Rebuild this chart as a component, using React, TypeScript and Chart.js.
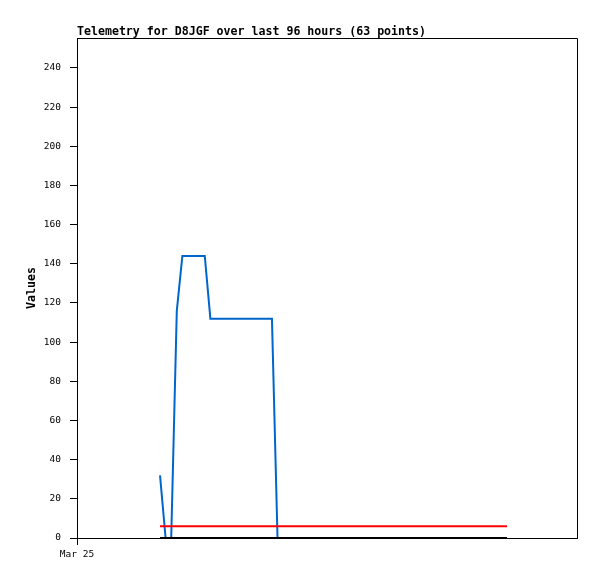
import React, { useEffect, useRef } from "react";
import { Chart, registerables } from "chart.js";

Chart.register(...registerables);

const TITLE = "Telemetry for D8JGF over last 96 hours (63 points)";
const Y_LABEL = "Values";

// hours since Mar 25 00:00
const hours = [
  15.94, 17.01, 18.09, 19.16, 20.23, 21.31, 22.38, 23.46, 24.53, 25.61,
  26.68, 27.76, 28.83, 29.91, 30.98, 32.06, 33.13, 34.2, 35.28, 36.35,
  37.43, 38.5, 39.58, 40.65, 41.73, 42.8, 43.88, 44.95, 46.02, 47.1,
  48.17, 49.25, 50.32, 51.4, 52.47, 53.55, 54.62, 55.7, 56.77, 57.85,
  58.92, 59.99, 61.07, 62.14, 63.22, 64.29, 65.37, 66.44, 67.52, 68.59,
  69.67, 70.74, 71.82, 72.89, 73.96, 75.04, 76.11, 77.19, 78.26, 79.34,
  80.41, 81.49, 82.56,
];

const blueValues = [
  32, 0, 0, 116, 144, 144, 144, 144, 144, 112,
  112, 112, 112, 112, 112, 112, 112, 112, 112, 112,
  112, 0, 0, 0, 0, 0, 0, 0, 0, 0,
  0, 0, 0, 0, 0, 0, 0, 0, 0, 0,
  0, 0, 0, 0, 0, 0, 0, 0, 0, 0,
  0, 0, 0, 0, 0, 0, 0, 0, 0, 0,
  0, 0, 0,
];

const redValues = [
  6, 6, 6, 6, 6, 6, 6, 6, 6, 6,
  6, 6, 6, 6, 6, 6, 6, 6, 6, 6,
  6, 6, 6, 6, 6, 6, 6, 6, 6, 6,
  6, 6, 6, 6, 6, 6, 6, 6, 6, 6,
  6, 6, 6, 6, 6, 6, 6, 6, 6, 6,
  6, 6, 6, 6, 6, 6, 6, 6, 6, 6,
  6, 6, 6,
];

const blackValues = [
  0, 0, 0, 0, 0, 0, 0, 0, 0, 0,
  0, 0, 0, 0, 0, 0, 0, 0, 0, 0,
  0, 0, 0, 0, 0, 0, 0, 0, 0, 0,
  0, 0, 0, 0, 0, 0, 0, 0, 0, 0,
  0, 0, 0, 0, 0, 0, 0, 0, 0, 0,
  0, 0, 0, 0, 0, 0, 0, 0, 0, 0,
  0, 0, 0,
];

const yTicks = [0, 20, 40, 60, 80, 100, 120, 140, 160, 180, 200, 220, 240];
const xTickValues = [0];
const xTickLabels = ["Mar 25"];

const X_MIN = 0;
const X_MAX = 96;
const Y_MIN = 0;
const Y_MAX = 255.3;

const MONO = '"DejaVu Sans Mono", "Liberation Mono", monospace';

const framePlugin = {
  id: "frame",
  beforeDatasetsDraw(chart: any) {
    const { ctx, chartArea: a } = chart;
    ctx.save();
    ctx.strokeStyle = "#000";
    ctx.lineWidth = 1;
    ctx.beginPath();
    ctx.moveTo(Math.round(a.left), Math.round(a.top) + 0.5);
    ctx.lineTo(Math.round(a.right) + 0.5, Math.round(a.top) + 0.5);
    ctx.lineTo(Math.round(a.right) + 0.5, Math.round(a.bottom));
    ctx.stroke();
    ctx.restore();
  },
};

function toPoints(values: number[]) {
  return values.map((v, i) => ({ x: hours[i], y: v }));
}

export default function App() {
  const ref = useRef<HTMLCanvasElement | null>(null);

  useEffect(() => {
    if (!ref.current) return;
    const chart = new Chart(ref.current, {
      type: "line",
      data: {
        datasets: [
          {
            label: "blue",
            data: toPoints(blueValues),
            borderColor: "#0066cc",
            backgroundColor: "#0066cc",
            borderWidth: 2,
            pointRadius: 0,
            tension: 0,
            order: 3,
          },
          {
            label: "red",
            data: toPoints(redValues),
            borderColor: "#ff0000",
            backgroundColor: "#ff0000",
            borderWidth: 2,
            pointRadius: 0,
            tension: 0,
            order: 2,
          },
          {
            label: "black",
            data: toPoints(blackValues),
            borderColor: "#000000",
            backgroundColor: "#000000",
            borderWidth: 2,
            pointRadius: 0,
            tension: 0,
            order: 1,
          },
        ],
      },
      options: {
        animation: false,
        responsive: false,
        devicePixelRatio: 1,
        layout: { padding: { left: 0, right: 20, top: 0, bottom: 0 } },
        plugins: {
          legend: { display: false },
          tooltip: { enabled: false },
          title: {
            display: true,
            text: TITLE,
            align: "start",
            fullSize: false,
            color: "#000",
            font: { family: MONO, size: 11.6, weight: "bold", lineHeight: 1 },
            padding: { top: 26, bottom: 0.4 },
          },
        },
        scales: {
          x: {
            type: "linear",
            min: X_MIN,
            max: X_MAX,
            afterBuildTicks: (s: any) => {
              s.ticks = xTickValues.map((v) => ({ value: v }));
            },
            afterFit: (s: any) => {
              s.height = 41;
            },
            ticks: {
              autoSkip: false,
              maxRotation: 0,
              padding: 4,
              color: "#000",
              font: { family: MONO, size: 9.5 },
              callback: (_v: any, i: number) => xTickLabels[i],
            },
            grid: {
              drawOnChartArea: false,
              drawTicks: true,
              tickLength: 7,
              color: "#000",
              tickColor: "#000",
            },
            border: { display: true, color: "#000", width: 1 },
          },
          y: {
            type: "linear",
            min: Y_MIN,
            max: Y_MAX,
            afterBuildTicks: (s: any) => {
              s.ticks = yTicks.map((v) => ({ value: v }));
            },
            afterFit: (s: any) => {
              s.width = 77;
            },
            ticks: {
              autoSkip: false,
              padding: 9,
              color: "#000",
              font: { family: MONO, size: 9.5 },
            },
            grid: {
              drawOnChartArea: false,
              drawTicks: true,
              tickLength: 7,
              color: "#000",
              tickColor: "#000",
            },
            border: { display: true, color: "#000", width: 1 },
            title: {
              display: true,
              text: Y_LABEL,
              color: "#000",
              font: { family: MONO, size: 11.6, weight: "bold", lineHeight: 1 },
              padding: { top: 26.2, bottom: 0 },
            },
          },
        },
      },
      plugins: [framePlugin],
    });
    return () => chart.destroy();
  }, []);

  return (
    <div style={{ position: "absolute", left: 0, top: 0, width: 597, height: 579, background: "#fff" }}>
      <canvas ref={ref} width={597} height={579} style={{ display: "block" }} />
    </div>
  );
}
